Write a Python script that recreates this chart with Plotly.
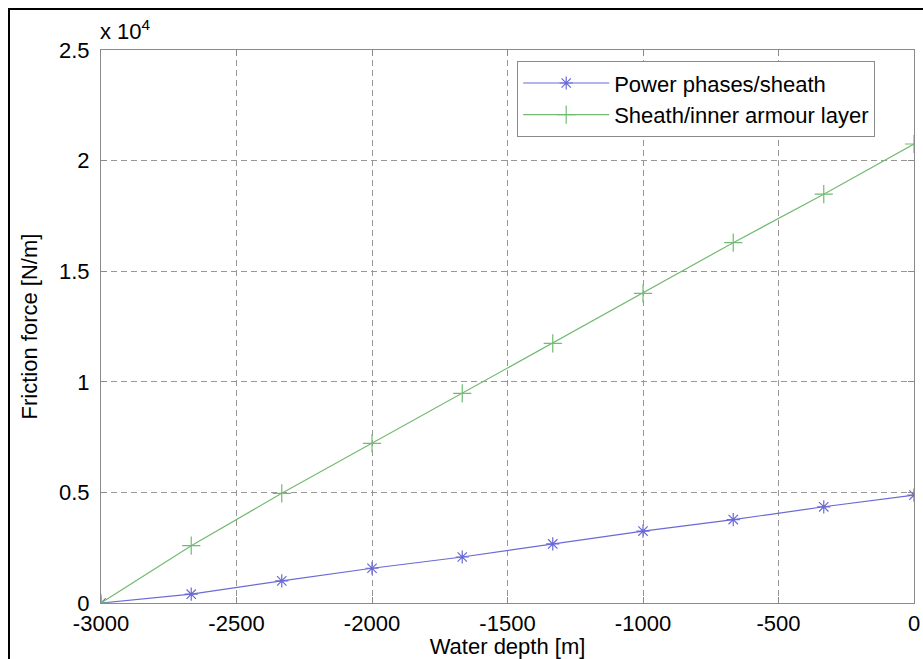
import plotly.graph_objects as go

depth = [-3000, -2667, -2333, -2000, -1667, -1333, -1000, -667, -333, 0]
power_sheath = [0, 400, 1000, 1570, 2080, 2670, 3250, 3770, 4350, 4880]
sheath_armour = [0, 2590, 4960, 7220, 9480, 11740, 14000, 16290, 18480, 20750]

x_ticks = [-3000, -2500, -2000, -1500, -1000, -500, 0]
y_ticks = [0, 5000, 10000, 15000, 20000, 25000]
y_ticktext = ["0", "0.5", "1", "1.5", "2", "2.5"]

W, H = 923, 659
L, R, T, B = 101, 9, 50, 56
pw, ph = W - L - R, H - T - B

FONT = "Liberation Sans, Arial, sans-serif"
BLUE = "#6a6ad6"
GREEN = "#72bb72"
fig = go.Figure()
fig.add_trace(go.Scatter(
    x=depth, y=power_sheath, mode="lines+markers", name="Power phases/sheath",
    line=dict(color=BLUE, width=1.2),
    marker=dict(symbol="asterisk-open", size=11, color=BLUE, line=dict(width=1.2, color=BLUE)),
))
fig.add_trace(go.Scatter(
    x=depth, y=sheath_armour, mode="lines+markers", name="Sheath/inner armour layer",
    line=dict(color=GREEN, width=1.2),
    marker=dict(symbol="cross-thin-open", size=13, color=GREEN, line=dict(width=1.2, color=GREEN)),
))

axis_common = dict(
    showgrid=True, gridcolor="#9a9696", griddash="6px,4px", gridwidth=1.2,
    showline=True, linecolor="#8a8a8a", linewidth=1.2, mirror="ticks",
    ticks="inside", ticklen=6, tickcolor="#8a8a8a",
    zeroline=False, automargin=False,
    tickfont=dict(family=FONT, size=22, color="black"),
)
fig.update_xaxes(range=[-3000, 0], tickvals=x_ticks, ticktext=[str(v) for v in x_ticks],
                 ticklabelstandoff=0,
                 title=dict(text="Water depth [m]", font=dict(family=FONT, size=22, color="black"), standoff=0),
                 **axis_common)
fig.update_yaxes(range=[0, 25000], tickvals=y_ticks, ticktext=y_ticktext,
                 ticklabelstandoff=6,
                 title=dict(text="Friction force [N/m]", font=dict(family=FONT, size=22, color="black"), standoff=15),
                 **axis_common)

fig.add_annotation(xref="paper", yref="paper", x=0, y=1.0, xanchor="left", yanchor="bottom",
                   text="x 10<sup>4</sup>", showarrow=False, yshift=4, xshift=-3,
                   font=dict(family=FONT, size=22, color="black"))

# outer figure frame (top and left visible)
fig.add_shape(type="rect", xref="paper", yref="paper",
              x0=(9 - L) / pw, x1=(W + 20 - L) / pw,
              y0=-(B + 20) / ph, y1=(ph + T - 9) / ph,
              line=dict(color="black", width=2), fillcolor="rgba(0,0,0,0)")

fig.update_layout(
    width=W, height=H, margin=dict(l=L, r=R, t=T, b=B, autoexpand=False),
    plot_bgcolor="white", paper_bgcolor="white",
    font=dict(family=FONT, size=22, color="black"),
    legend=dict(x=(517 - L) / pw, y=(H - B - 61) / ph, xanchor="left", yanchor="top",
                bgcolor="white", bordercolor="#8a8a8a", borderwidth=1.2,
                font=dict(family=FONT, size=22, color="black"),
                itemwidth=86, tracegroupgap=0),
    showlegend=True,
)
fig.write_html("out.html", config={"displayModeBar": False},
               post_script="document.body.style.margin='0px';document.body.style.overflow='hidden';")
